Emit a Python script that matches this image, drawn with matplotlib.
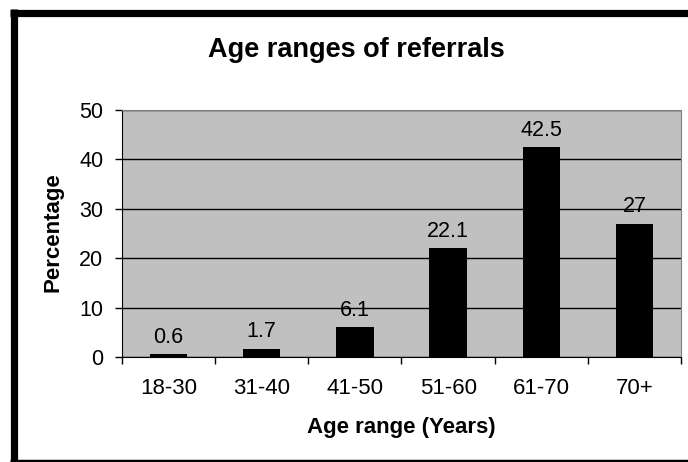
import matplotlib
matplotlib.use('Agg')
import matplotlib.pyplot as plt
from matplotlib.lines import Line2D

plt.rcParams['font.family'] = ['Liberation Sans', 'DejaVu Sans']

age_ranges = ['18-30', '31-40', '41-50', '51-60', '61-70', '70+']
percentages = [0.6, 1.7, 6.1, 22.1, 42.5, 27]
value_labels = ['0.6', '1.7', '6.1', '22.1', '42.5', '27']
y_ticks = [0, 10, 20, 30, 40, 50]

W, H = 688, 462
fig = plt.figure(figsize=(W / 100, H / 100), dpi=100)
fig.patch.set_facecolor('white')

ax = fig.add_axes([122 / W, 1 - 357 / H, (681 - 122) / W, (357 - 110) / H])
ax.set_facecolor('#c0c0c0')

x_pos = list(range(len(age_ranges)))
ax.bar(x_pos, percentages, width=0.4, color='black', zorder=3)
for x, v, lab in zip(x_pos, percentages, value_labels):
    ax.annotate(lab, xy=(x, v), xytext=(0, 4.5), textcoords='offset points',
                ha='center', va='bottom', fontsize=15.5, zorder=4)

ax.set_xlim(-0.5, len(age_ranges) - 0.5)
ax.set_ylim(0, 50)
ax.set_yticks(y_ticks)
ax.set_yticklabels([str(t) for t in y_ticks], fontsize=15.5)
ax.yaxis.grid(True, color='black', linewidth=1, zorder=1)
ax.set_axisbelow(True)

# ticks between categories, labels in the middle
ax.set_xticks([i - 0.5 for i in range(len(age_ranges) + 1)])
ax.set_xticklabels([])
ax.set_xticks(x_pos, minor=True)
ax.set_xticklabels(age_ranges, minor=True, fontsize=16)
ax.tick_params(axis='x', which='major', direction='out', length=5, width=1, color='black')
ax.tick_params(axis='x', which='minor', length=0, pad=15)
ax.tick_params(axis='y', direction='out', length=5, width=1, pad=8.5)

for side in ['top', 'right']:
    ax.spines[side].set_color('#808080')
ax.spines['left'].set_color('black')
ax.spines['bottom'].set_color('black')

fig.text(356 / W, 1 - 57 / H, 'Age ranges of referrals', ha='center', va='baseline',
         fontsize=19.5, fontweight='bold')
fig.text(53 / W, 1 - 232 / H, 'Percentage', ha='center', va='center', rotation=90,
         fontsize=16, fontweight='bold')
fig.text(401 / W, 1 - 433 / H, 'Age range (Years)', ha='center', va='baseline',
         fontsize=16, fontweight='bold')

# outer chart frame (cut off on the right)
fig.add_artist(Line2D([10 / W, 1], [1 - 12.5 / H, 1 - 12.5 / H], color='black',
                      linewidth=5.2, solid_capstyle='butt', transform=fig.transFigure))
fig.add_artist(Line2D([13.5 / W, 13.5 / W], [0, 1 - 9 / H], color='black',
                      linewidth=5.2, solid_capstyle='butt', transform=fig.transFigure))
fig.add_artist(Line2D([10 / W, 1], [1.5 / H, 1.5 / H], color='black',
                      linewidth=2.5, solid_capstyle='butt', transform=fig.transFigure))

fig.savefig('out.png', dpi=100)
